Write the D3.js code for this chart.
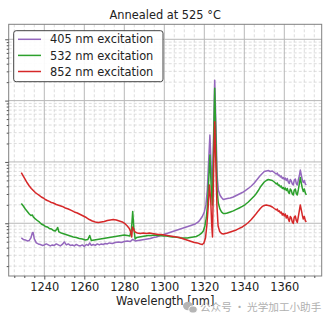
<!DOCTYPE html>
<html>
<head>
<meta charset="utf-8">
<script src="https://cdn.jsdelivr.net/npm/d3@7"></script>
<style>
  html, body { margin: 0; padding: 0; background: #fff; }
  svg { display: block; font-family: "DejaVu Sans", sans-serif; }
</style>
</head>
<body>
<svg id="chart" width="333" height="322"></svg>
<script>
// Photoluminescence spectra, sample annealed at 525 °C (intensity, log scale)
const titleText = "Annealed at 525 °C";
const xLabelText = "Wavelength [nm]";
const seriesNames = ["405 nm excitation", "532 nm excitation", "852 nm excitation"];
const seriesColors = ["#9467bd", "#2ca02c", "#d62728"];
const xTickValues = [1240, 1260, 1280, 1300, 1320, 1340, 1360];
const yTickValues = [1e3, 1e4, 1e5, 1e6];

// 405 nm excitation
const wl405 = [1228.5,1229.5,1230.5,1231.5,1232.5,1233.3,1234.0,1234.4,1235.0,1236,1237,1238,1239,1240,1241,1242,1243,1244,1245,1246,1247,1248,1249,1250,1251,1252,1253,1254,1255,1256,1257,1258,1259,1260,1261,1262,1262.7,1263.5,1264.5,1265.5,1266.5,1267.5,1268.5,1269.5,1270.5,1271.5,1272.5,1274,1275.5,1277,1278.5,1280,1281.5,1283,1284.2,1285.5,1287,1288.5,1290,1291.5,1293,1294.5,1296,1297.5,1299,1300.5,1302,1303.5,1305,1306.5,1308,1309.5,1311,1312.5,1314,1315.5,1317,1318,1319,1320,1320.8,1321.5,1322.2,1322.8,1323.4,1324.0,1324.6,1325.2,1325.8,1326.4,1327.0,1327.8,1328.6,1329.5,1330.5,1331.5,1333,1334.5,1336,1337.5,1339,1340.5,1342,1343.5,1345,1346,1347,1348,1349,1350,1351,1352,1353,1354,1355,1356,1356.5,1357,1357.5,1358,1358.5,1359,1359.5,1360,1360.5,1361,1361.5,1362,1362.5,1363,1363.5,1364,1364.5,1365,1365.5,1366,1366.5,1367,1367.5,1368,1368.5,1369,1369.5,1370,1370.5,1371];
const int405 = [576,545,535,515,525,576,695,708,555,478,460,451,435,443,460,443,427,443,435,460,443,427,451,496,443,460,435,443,427,451,435,427,443,419,451,435,478,435,451,435,460,443,460,451,469,460,478,469,487,496,487,505,515,505,545,515,525,535,545,555,565,587,598,621,645,669,695,722,749,778,808,838,870,904,938,974,1050,1150,1290,1530,1990,3490,10700,27400,8900,3490,22700,215800,39900,6120,3490,2890,2630,2440,2490,2540,2580,2680,2840,3000,3170,3420,3690,4050,4530,4980,5470,6000,6470,6980,7110,7240,6980,7110,6720,6350,6590,6000,6120,5680,5890,5370,5570,5170,5470,4980,5370,4710,4450,5170,4890,4370,4210,5070,5270,4450,4210,5070,5890,7380,6120,5070,4620,4980,4370,4210];

// 532 nm excitation
const wl532 = [1228.5,1229.5,1230.5,1231.5,1232.5,1233.3,1234.0,1234.5,1235.5,1236.5,1237.5,1238.5,1239.5,1240.5,1241.5,1242.5,1243.5,1244.5,1245.5,1246.3,1246.7,1247.3,1248.5,1250,1251.5,1253,1254.5,1256,1257.5,1259,1260.5,1261.8,1262.7,1263.5,1265,1266.5,1268,1269.5,1271,1272.5,1274,1275.5,1277,1278.5,1280,1281.5,1282.8,1283.6,1284.2,1284.8,1285.4,1286.2,1287.5,1289,1290.5,1292,1293.5,1295,1296.5,1298,1299.5,1301,1302.5,1304,1305.5,1307,1308.5,1310,1311.5,1313,1314.5,1316,1317.5,1318.5,1319.5,1320.3,1321,1321.6,1322.2,1322.8,1323.4,1324.0,1324.6,1325.2,1325.8,1326.4,1327.0,1327.8,1328.6,1329.5,1330.5,1331.5,1333,1334.5,1336,1337.5,1339,1340.5,1342,1343.5,1345,1346,1347,1348,1349,1350,1351,1352,1353,1354,1355,1356,1356.5,1357,1357.5,1358,1358.5,1359,1359.5,1360,1360.5,1361,1361.5,1362,1362.5,1363,1363.5,1364,1364.5,1365,1365.5,1366,1366.5,1367,1367.5,1368,1368.5,1369,1369.5,1370,1370.5,1371];
const int532 = [2100,1910,1710,1560,1420,1340,1365,1270,1175,1110,1050,974,938,887,870,823,808,763,749,808,854,722,695,669,645,621,598,587,565,555,535,545,633,525,535,545,555,565,576,587,598,609,621,633,645,633,621,808,1560,808,555,587,598,609,621,633,633,645,633,633,621,621,609,598,598,587,576,576,576,587,598,609,645,682,749,904,1220,1990,5070,12950,4200,1990,15600,159800,22700,3490,2140,1710,1530,1440,1440,1470,1530,1590,1680,1775,1880,2020,2220,2490,2780,3060,3420,3900,4280,4710,4980,5170,5070,4980,4710,4370,4530,4130,4210,3900,4050,3690,3830,3550,3760,3420,3690,3230,3060,3620,3420,3000,2890,3490,3620,3060,2890,3490,4370,5570,4530,3760,3300,3620,3120,2890];

// 852 nm excitation
const wl852 = [1228.5,1229.5,1230.5,1231.5,1232.5,1233.5,1234.5,1235.5,1236.5,1237.5,1238.5,1239.5,1240.5,1241.5,1242.5,1243.5,1244.5,1246,1247.5,1249,1250.5,1252,1253.5,1255,1256.5,1258,1259.5,1261,1262.5,1264,1265.5,1267,1268.5,1270,1271.5,1273,1274.5,1276,1277.5,1279,1280.5,1281.5,1282.5,1283.2,1283.7,1284.1,1284.6,1285.3,1286.5,1288,1289.5,1291,1292.5,1294,1295.5,1297,1298.5,1300,1301.5,1303,1304.5,1306,1307.5,1309,1310.5,1312,1313.5,1315,1316.5,1318,1319,1319.8,1320.6,1321.3,1322,1322.6,1323.2,1323.7,1324.1,1324.6,1325.2,1325.8,1326.3,1326.9,1327.7,1328.6,1329.5,1330.5,1331.5,1333,1334.5,1336,1337.5,1339,1340.5,1342,1343.5,1345,1346,1347,1348,1349,1350,1351,1352,1353,1354,1355,1356,1356.5,1357,1357.5,1358,1358.5,1359,1359.5,1360,1360.5,1361,1361.5,1362,1362.5,1363,1363.5,1364,1364.5,1365,1365.5,1366,1366.5,1367,1367.5,1368,1368.5,1369,1369.5,1370,1370.5,1371];
const int852 = [6720,5890,5170,4530,4050,3690,3420,3170,3000,2840,2680,2580,2440,2350,2270,2180,2140,2020,1950,1880,1775,1710,1620,1530,1470,1390,1315,1240,1150,1090,1050,1030,1050,1070,1110,1132,1150,1132,1090,1050,974,904,823,722,598,870,808,722,695,682,695,682,695,682,669,657,657,645,633,621,609,598,587,565,545,525,505,487,478,460,451,478,576,938,1990,4200,2400,938,598,6120,45200,8900,1990,904,735,682,669,682,695,722,749,778,823,870,938,1030,1150,1315,1440,1590,1740,1880,1950,1986,1950,1913,1843,1740,1650,1710,1560,1590,1470,1530,1365,1440,1315,1417,1220,1340,1175,1070,1290,1220,1050,995,1266,1315,1110,1030,1266,1590,1986,1650,1365,1175,1290,1110,1050];

const series = [
  { name: seriesNames[0], color: seriesColors[0], wl: wl405, val: int405 },
  { name: seriesNames[1], color: seriesColors[1], wl: wl532, val: int532 },
  { name: seriesNames[2], color: seriesColors[2], wl: wl852, val: int852 }
];

const svg = d3.select("#chart");
const plot = { left: 8.7, right: 321.7, top: 24.3, bottom: 276 };

const x = d3.scaleLinear().domain([1222.2, 1378.7]).range([plot.left, plot.right]);
const y = d3.scaleLog().domain([138, 1.756e6]).range([plot.bottom, plot.top]);

// minor tick positions
const xMinor = d3.range(1225, 1378, 5).filter(v => v % 20 !== 0);
const yMinor = [];
for (let e = 2; e <= 6; e++) {
  for (let k = 2; k <= 9; k++) {
    const v = k * Math.pow(10, e);
    if (v >= y.domain()[0] && v <= y.domain()[1]) yMinor.push(v);
  }
}

const clipId = "plotclip";
svg.append("defs").append("clipPath").attr("id", clipId)
  .append("rect")
  .attr("x", plot.left).attr("y", plot.top)
  .attr("width", plot.right - plot.left).attr("height", plot.bottom - plot.top);

// minor grid (dashed)
const grid = svg.append("g");
grid.selectAll("line.xminor").data(xMinor).join("line")
  .attr("x1", d => x(d)).attr("x2", d => x(d))
  .attr("y1", plot.top).attr("y2", plot.bottom)
  .attr("stroke", "#d4d4d4").attr("stroke-width", 0.8).attr("stroke-dasharray", "3,2");
grid.selectAll("line.yminor").data(yMinor).join("line")
  .attr("x1", plot.left).attr("x2", plot.right)
  .attr("y1", d => y(d)).attr("y2", d => y(d))
  .attr("stroke", "#d4d4d4").attr("stroke-width", 0.8).attr("stroke-dasharray", "3,2");

// major grid (solid)
grid.selectAll("line.xmajor").data(xTickValues).join("line")
  .attr("x1", d => x(d)).attr("x2", d => x(d))
  .attr("y1", plot.top).attr("y2", plot.bottom)
  .attr("stroke", "#b8b8b8").attr("stroke-width", 1);
grid.selectAll("line.ymajor").data(yTickValues).join("line")
  .attr("x1", plot.left).attr("x2", plot.right)
  .attr("y1", d => y(d)).attr("y2", d => y(d))
  .attr("stroke", "#b8b8b8").attr("stroke-width", 1);

// spectra
const line = d3.line().x(d => x(d[0])).y(d => y(d[1]));
const lines = svg.append("g").attr("clip-path", `url(#${clipId})`);
series.forEach(s => {
  lines.append("path")
    .datum(s.wl.map((w, i) => [w, s.val[i]]))
    .attr("fill", "none")
    .attr("stroke", s.color)
    .attr("stroke-width", 1.5)
    .attr("stroke-linejoin", "round")
    .attr("d", line);
});

// frame
svg.append("rect")
  .attr("x", plot.left).attr("y", plot.top)
  .attr("width", plot.right - plot.left).attr("height", plot.bottom - plot.top)
  .attr("fill", "none").attr("stroke", "#808080").attr("stroke-width", 1);

// x axis
const xAxis = svg.append("g")
  .attr("transform", `translate(0,${plot.bottom})`)
  .call(d3.axisBottom(x).tickValues(xTickValues).tickSize(3.5).tickPadding(3).tickFormat(d3.format("d")));
xAxis.select(".domain").remove();
xAxis.selectAll(".tick line").attr("stroke", "#555");
xAxis.selectAll(".tick text").attr("font-size", "11.4px").attr("fill", "#222")
  .attr("font-family", "DejaVu Sans, sans-serif");
svg.append("g")
  .attr("transform", `translate(0,${plot.bottom})`)
  .call(d3.axisBottom(x).tickValues(xMinor).tickSize(2).tickFormat(""))
  .call(g => g.select(".domain").remove())
  .call(g => g.selectAll(".tick line").attr("stroke", "#555"));

// y axis (ticks only)
svg.append("g")
  .attr("transform", `translate(${plot.left},0)`)
  .call(d3.axisLeft(y).tickValues(yTickValues).tickSize(3.5).tickFormat(""))
  .call(g => g.select(".domain").remove())
  .call(g => g.selectAll(".tick line").attr("stroke", "#555"));
svg.append("g")
  .attr("transform", `translate(${plot.left},0)`)
  .call(d3.axisLeft(y).tickValues(yMinor).tickSize(2).tickFormat(""))
  .call(g => g.select(".domain").remove())
  .call(g => g.selectAll(".tick line").attr("stroke", "#555"));

// title and axis label
svg.append("text")
  .attr("x", (plot.left + plot.right) / 2).attr("y", 19)
  .attr("text-anchor", "middle").attr("font-size", "11.4px").attr("fill", "#222")
  .text(titleText);
svg.append("text")
  .attr("x", (plot.left + plot.right) / 2).attr("y", 305)
  .attr("text-anchor", "middle").attr("font-size", "11.4px").attr("fill", "#222")
  .text(xLabelText);

// legend
const legend = svg.append("g");
legend.append("rect")
  .attr("x", 13.7).attr("y", 30.7).attr("width", 149.3).attr("height", 51)
  .attr("rx", 2.5).attr("fill", "#fff").attr("fill-opacity", 0.9)
  .attr("stroke", "#444").attr("stroke-width", 1);
series.forEach((s, i) => {
  const cy = 39.3 + i * 16.1;
  legend.append("line")
    .attr("x1", 18).attr("x2", 41).attr("y1", cy).attr("y2", cy)
    .attr("stroke", s.color).attr("stroke-width", 1.5);
  legend.append("text")
    .attr("x", 50).attr("y", cy + 4.1)
    .attr("font-size", "11.4px").attr("fill", "#222")
    .text(s.name);
});

// account mark
const mark = svg.append("g").attr("fill", "#b5b5b5");
mark.append("ellipse").attr("cx", 188).attr("cy", 306).attr("rx", 5).attr("ry", 4.2);
mark.append("ellipse").attr("cx", 193).attr("cy", 309.5).attr("rx", 4.2).attr("ry", 3.5)
  .attr("stroke", "#fff").attr("stroke-width", 0.8);
svg.append("text")
  .attr("x", 200).attr("y", 311)
  .attr("font-family", "Noto Sans CJK SC, sans-serif")
  .attr("font-size", "10.6px").attr("fill", "#b0b0b0")
  .text("公众号 · 光学加工小助手");
</script>
</body>
</html>
